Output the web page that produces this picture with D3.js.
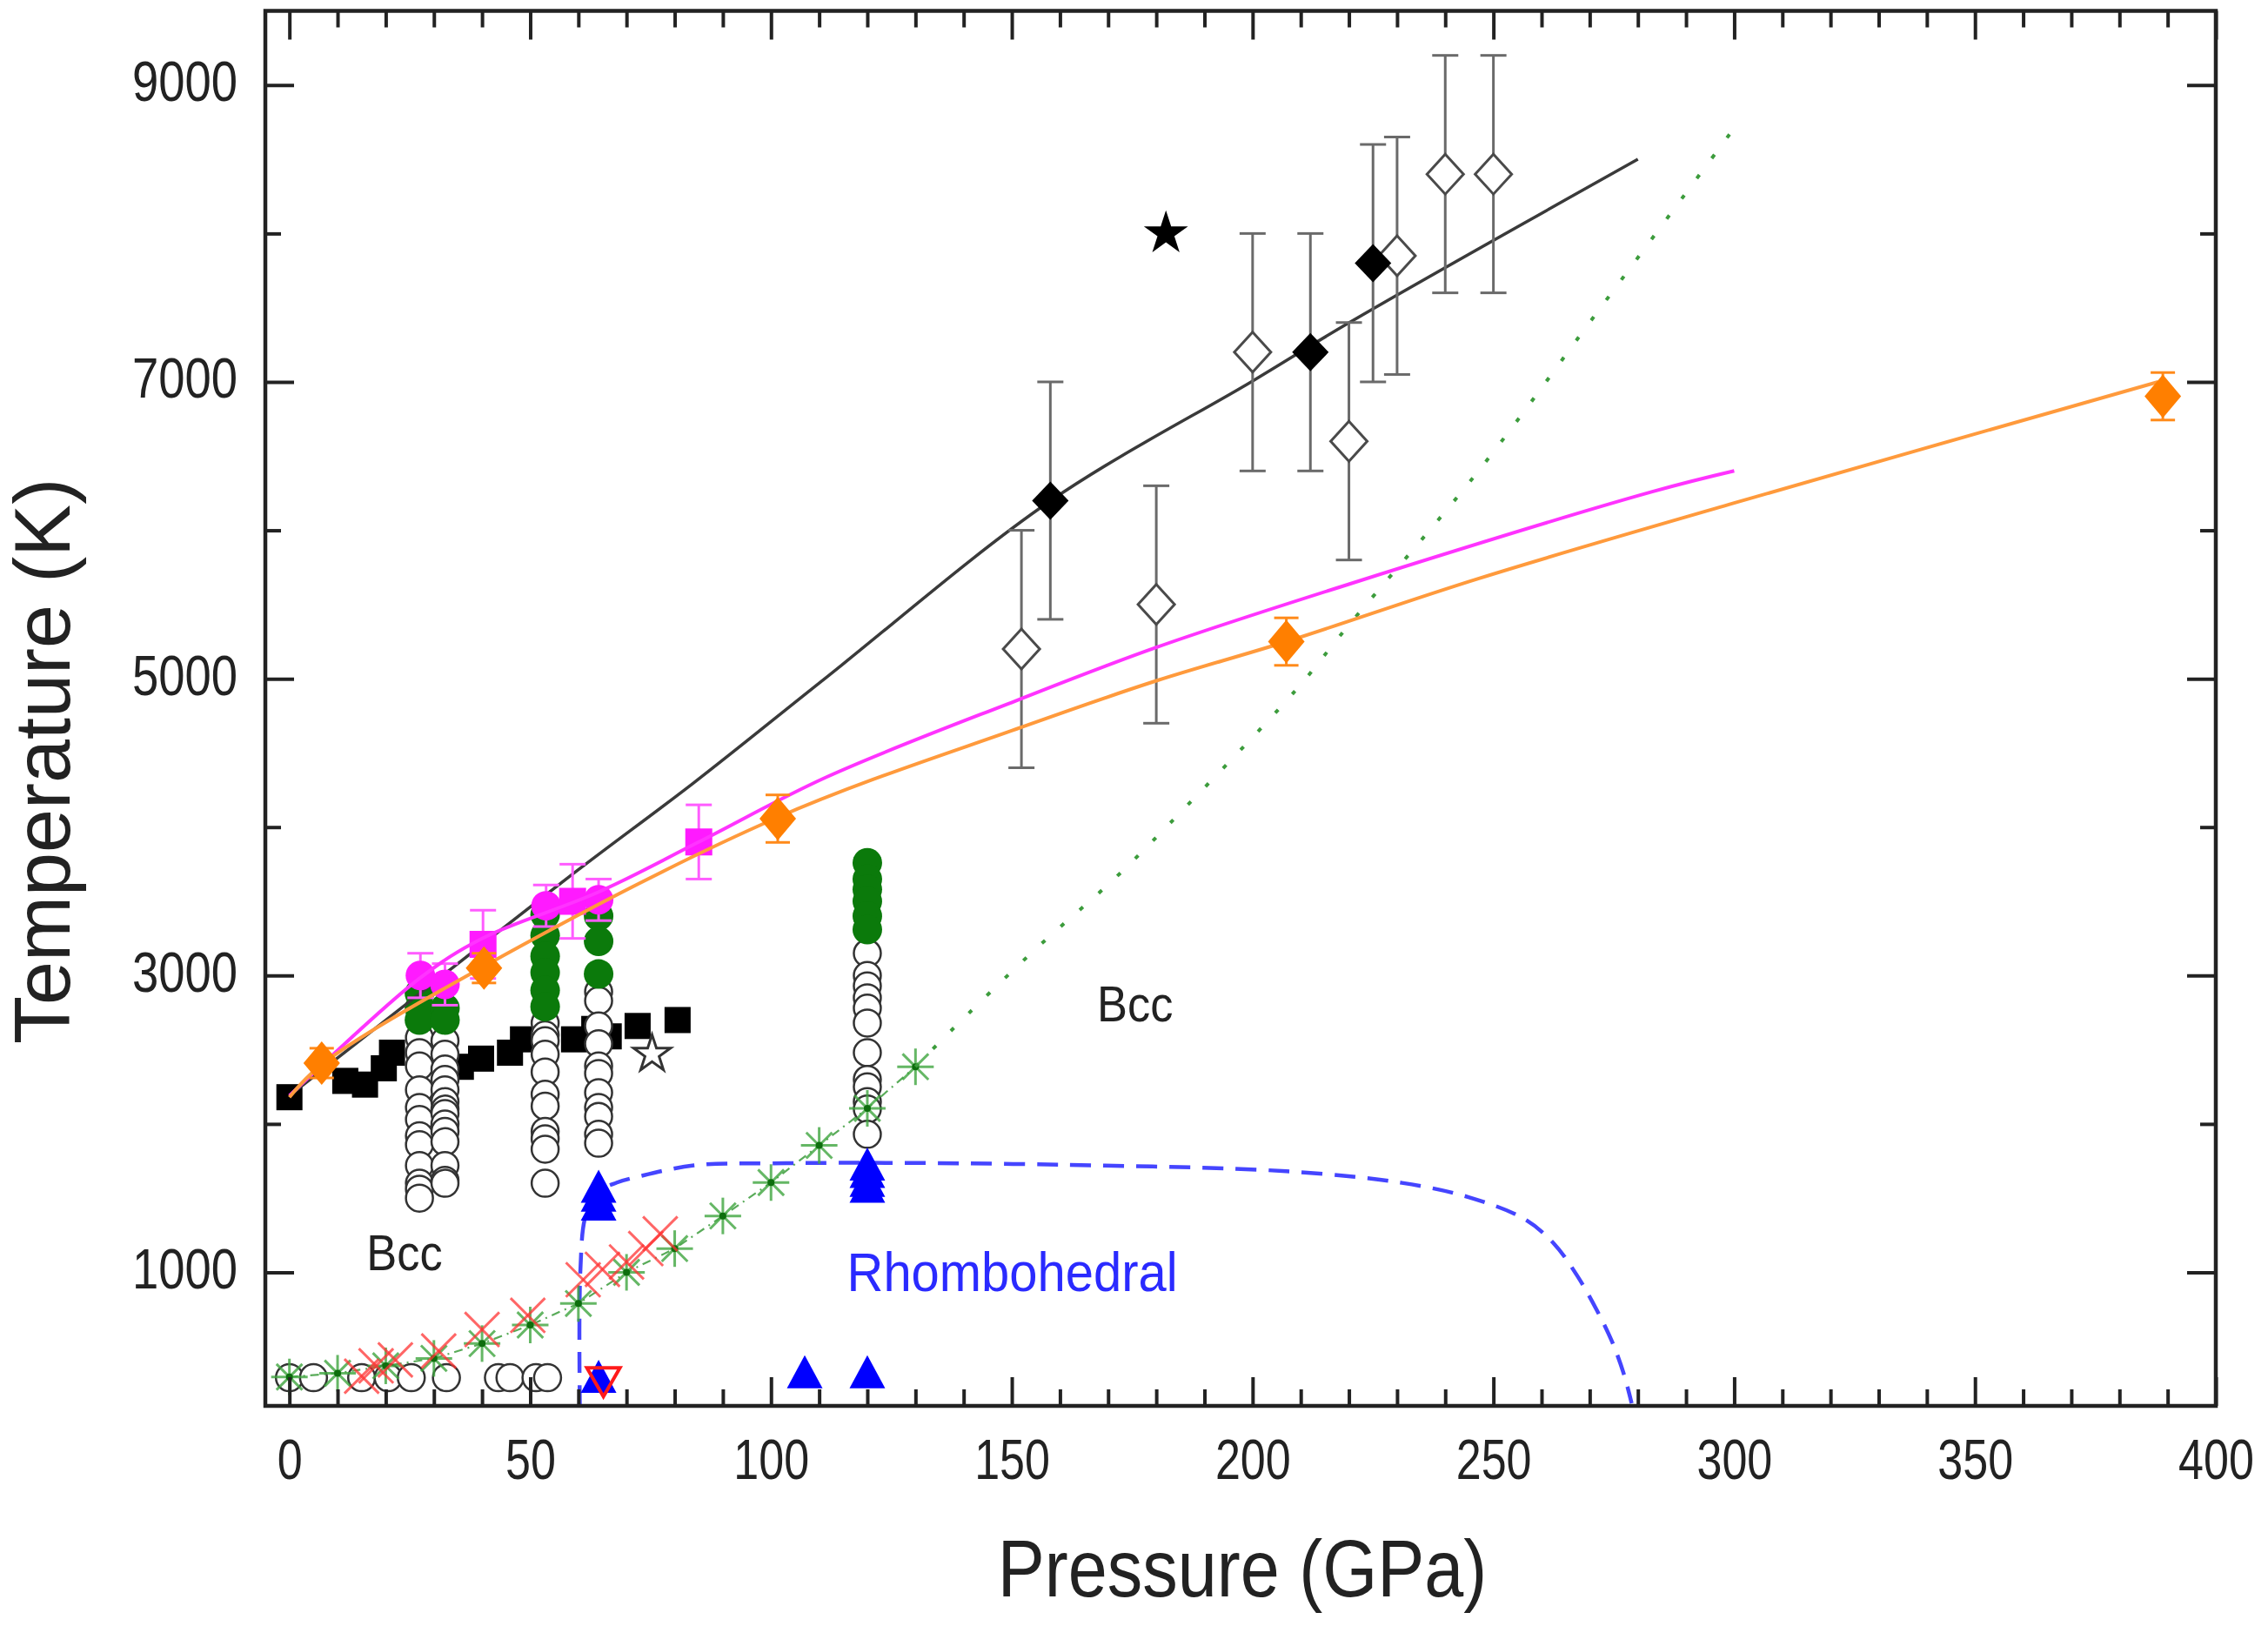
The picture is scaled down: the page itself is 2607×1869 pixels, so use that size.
<!DOCTYPE html>
<html lang="en">
<head>
<meta charset="UTF-8" />
<title>Melting curve and phase diagram</title>
<style>
  body { margin: 0; background: #fff; }
  svg { display: block; background: #fff; }
  text { font-family: 'Liberation Sans', Arial, Helvetica, sans-serif; fill: #222; }
</style>
</head>
<body>
<svg id="chart" width="2607" height="1869"></svg>
<script src="https://cdn.jsdelivr.net/npm/d3@7"></script>
<script>
// ---- data (pressure in GPa, temperature in K) ----
const xMajor = [0, 50, 100, 150, 200, 250, 300, 350, 400];
const xMinor = [10, 20, 30, 40, 60, 70, 80, 90, 110, 120, 130, 140, 160, 170, 180, 190,
  210, 220, 230, 240, 260, 270, 280, 290, 310, 320, 330, 340, 360, 370, 380, 390];
const yMajor = [1000, 3000, 5000, 7000, 9000];
const yMinor = [2000, 4000, 6000, 8000];

// fitted curves
const blackFitP = [0, 33, 60, 84, 111.5, 158, 200, 220, 280];
const blackFitT = [2190, 3030, 3713, 4300, 5009, 6198, 7006, 7398, 8500];
const magFitP = [0, 27, 40, 64, 85, 111.5, 151.5, 180, 220, 283, 300];
const magFitT = [2190, 2980, 3250, 3560, 3900, 4337, 4860, 5211, 5637, 6260, 6400];
const orFitP = [0, 6.7, 40, 101, 152, 180, 207, 247, 300, 388];
const orFitT = [2180, 2400, 3055, 4060, 4673, 4986, 5250, 5676, 6184, 7000];
const greenDotP = [130, 137, 155, 171, 182.5, 209, 219.3, 247, 272, 300];
const greenDotT = [2385, 2616, 3180, 3643, 4015, 4924, 5335, 6404, 7489, 8710];
const blueDashP = [60.3, 60.4, 61.5, 64, 68, 72, 84, 100, 120, 160, 207, 231, 245, 256.5, 262.6, 267.4, 271.5, 274.7, 277.1, 278.7];
const blueDashT = [100, 1000, 1380, 1540, 1605, 1641, 1721, 1734, 1738, 1725, 1681, 1603, 1505, 1358, 1192, 977, 743, 528, 313, 118];

// black squares
const sqP = [0, 11.6, 15.7, 19.6, 21.3, 35.6, 39.8, 45.8, 48.5, 59.1, 63.3, 66.3, 72.3, 80.6];
const sqT = [2180, 2290, 2265, 2375, 2480, 2385, 2440, 2480, 2570, 2570, 2640, 2590, 2660, 2700];

// open circle columns and green filled circles
const colP = [27, 32.3, 53.1, 64.2, 120];
const openColT = [
  [2580, 2480, 2390, 2230, 2110, 2030, 1920, 1860, 1720, 1600, 1560, 1500],
  [2560, 2470, 2370, 2300, 2230, 2150, 2100, 2070, 2000, 1950, 1880, 1720, 1620, 1600],
  [2680, 2600, 2560, 2470, 2350, 2200, 2120, 1950, 1900, 1830, 1600],
  [2890, 2830, 2660, 2540, 2390, 2340, 2210, 2110, 2050, 1930, 1870],
  [3150, 3000, 2930, 2850, 2780, 2680, 2480, 2300, 2250, 2150, 2100, 1930]
];
const greenColT = [
  [2880, 2780, 2700],
  [2780, 2700],
  [3410, 3270, 3130, 3020, 2900, 2790],
  [3400, 3230, 3010],
  [3760, 3650, 3580, 3500, 3400, 3310]
];
const openBottomP = [0, 5, 15, 20.5, 25.3, 32.6, 43.4, 45.8, 51.2, 53.6];
const openBottomT = [290, 290, 290, 290, 290, 290, 290, 290, 290, 290];

// triangles
const blueTriP = [64.2, 64.2, 64.2, 120, 120, 120, 120, 64.2, 107, 120];
const blueTriT = [1580, 1520, 1460, 1730, 1680, 1620, 1580, 300, 330, 330];
const redTriP = [65.2];
const redTriT = [260];

// asterisks and crosses
const astP = [0, 10, 20, 30, 40, 50, 60, 70, 80, 90, 100, 110, 120, 130];
const astT = [295, 320, 370, 420, 520, 645, 790, 1000, 1160, 1380, 1605, 1855, 2105, 2385];
const crossP = [15, 18, 22, 31, 40, 49.5, 61, 65, 70, 74, 77];
const crossT = [300, 370, 410, 470, 615, 710, 950, 1020, 1070, 1160, 1260];

// diamonds with error bars
const blkDiaP = [158, 212, 225];
const blkDiaT = [6200, 7200, 7800];
const blkDiaErr = [800, 800, 800];
const openDiaP = [152, 180, 200, 220, 230, 240, 250];
const openDiaT = [5200, 5500, 7200, 6600, 7850, 8400, 8400];
const openDiaErr = [800, 800, 800, 800, 800, 800, 800];
const orDiaP = [6.7, 40.4, 101.4, 207, 389];
const orDiaT = [2410, 3050, 4057, 5250, 6903];
const orDiaErr = [100, 100, 160, 160, 160];

// magenta points
const pinkCircP = [27.2, 32.3, 53.3, 64.2];
const pinkCircT = [3000, 2940, 3470, 3510];
const pinkCircErr = [150, 140, 140, 140];
const pinkSqP = [40.2, 58.8, 85];
const pinkSqT = [3210, 3500, 3900];
const pinkSqErr = [230, 250, 250];

// stars
const starP = [182];
const starT = [8000];
const openStarP = [75.3];
const openStarT = [2470];

// annotations
const labelText = ["Bcc", "Bcc", "Rhombohedral"];
const labelP = [23.9, 175.6, 150.1];
const labelT = [1016, 2693, 876];
const labelColor = ["#222", "#222", "#2a2aff"];

// ---- chart ----
const svg = d3.select("#chart");
const x = d3.scaleLinear().domain([-5, 400]).range([305, 2547]);
const y = d3.scaleLinear().domain([100, 9500]).range([1616, 12.5]);

const zip = (a, b) => a.map((v, i) => [v, b[i]]);
const smooth = d3.line().x(d => x(d[0])).y(d => y(d[1])).curve(d3.curveCatmullRom.alpha(0.5));
const straight = d3.line().x(d => x(d[0])).y(d => y(d[1]));
const at = (p, t) => `translate(${x(p)},${y(t)})`;

const plot = svg.append("g");

// error bar helper
function errorBars(P, T, E, color, cap) {
  const g = plot.append("g").attr("stroke", color).attr("stroke-width", 3).attr("fill", "none");
  P.forEach((p, i) => {
    const cx = x(p), y1 = y(T[i] + E[i]), y2 = y(T[i] - E[i]);
    g.append("line").attr("x1", cx).attr("x2", cx).attr("y1", y1).attr("y2", y2);
    g.append("line").attr("x1", cx - cap).attr("x2", cx + cap).attr("y1", y1).attr("y2", y1);
    g.append("line").attr("x1", cx - cap).attr("x2", cx + cap).attr("y1", y2).attr("y2", y2);
  });
}
const diamond = (w, h) => `M0,${-h}L${w},0L0,${h}L${-w},0Z`;
const triUp = (w, h) => `M0,${-h / 2}L${w / 2},${h / 2}L${-w / 2},${h / 2}Z`;
const triDown = (w, h) => `M0,${h / 2}L${w / 2},${-h / 2}L${-w / 2},${-h / 2}Z`;

// black squares
plot.append("g").selectAll("rect").data(zip(sqP, sqT)).join("rect")
  .attr("x", d => x(d[0]) - 15).attr("y", d => y(d[1]) - 15)
  .attr("width", 30).attr("height", 30).attr("fill", "#000");

// open circles (columns + bottom row)
const openPts = colP.flatMap((p, i) => openColT[i].map(t => [p, t])).concat(zip(openBottomP, openBottomT));
plot.append("g").selectAll("circle").data(openPts).join("circle")
  .attr("cx", d => x(d[0])).attr("cy", d => y(d[1])).attr("r", 15.5)
  .attr("fill", "#fff").attr("stroke", "#333").attr("stroke-width", 2.5);

// green filled circles
const greenPts = colP.flatMap((p, i) => greenColT[i].map(t => [p, t]));
plot.append("g").selectAll("circle").data(greenPts).join("circle")
  .attr("cx", d => x(d[0])).attr("cy", d => y(d[1])).attr("r", 17)
  .attr("fill", "#0b7a0b");

// blue dashed boundary
plot.append("path").datum(zip(blueDashP, blueDashT)).attr("d", smooth)
  .attr("fill", "none").attr("stroke", "#4545ff").attr("stroke-width", 4.5)
  .attr("stroke-dasharray", "24 14");

// asterisk connector (dash-dot)
plot.append("path").datum(zip(astP, astT)).attr("d", straight)
  .attr("fill", "none").attr("stroke", "#3c9c3c").attr("stroke-width", 2.2)
  .attr("stroke-dasharray", "10 6 2 6").attr("opacity", 0.85);

// green asterisks
const ast = plot.append("g").selectAll("g").data(zip(astP, astT)).join("g")
  .attr("transform", d => at(d[0], d[1]));
[0, 45, 90, 135].forEach(a => {
  ast.append("line").attr("x1", -21).attr("x2", 21).attr("y1", 0).attr("y2", 0)
    .attr("transform", `rotate(${a})`).attr("stroke", "#3fa63f").attr("stroke-width", 3).attr("opacity", 0.8);
});
ast.append("circle").attr("r", 4).attr("fill", "#0d6e0d");

// red crosses
const crs = plot.append("g").selectAll("g").data(zip(crossP, crossT)).join("g")
  .attr("transform", d => at(d[0], d[1]));
[45, 135].forEach(a => {
  crs.append("line").attr("x1", -28).attr("x2", 28).attr("y1", 0).attr("y2", 0)
    .attr("transform", `rotate(${a})`).attr("stroke", "#ff3434").attr("stroke-width", 3).attr("opacity", 0.75);
});

// green dotted line
plot.append("path").datum(zip(greenDotP, greenDotT)).attr("d", smooth)
  .attr("fill", "none").attr("stroke", "#3c9c3c").attr("stroke-width", 4)
  .attr("stroke-dasharray", "5 24");

// blue triangles
plot.append("g").selectAll("path").data(zip(blueTriP, blueTriT)).join("path")
  .attr("d", triUp(41, 38)).attr("transform", d => at(d[0], d[1])).attr("fill", "#0000ff");
// red open inverted triangle
plot.append("g").selectAll("path").data(zip(redTriP, redTriT)).join("path")
  .attr("d", triDown(38, 33)).attr("transform", d => at(d[0], d[1]))
  .attr("fill", "none").attr("stroke", "#ff1a1a").attr("stroke-width", 4);

// black fit line
plot.append("path").datum(zip(blackFitP, blackFitT)).attr("d", smooth)
  .attr("fill", "none").attr("stroke", "#3a3a3a").attr("stroke-width", 3.5);

// diamonds with error bars
errorBars(openDiaP, openDiaT, openDiaErr, "#6a6a6a", 15);
errorBars(blkDiaP, blkDiaT, blkDiaErr, "#6a6a6a", 15);
plot.append("g").selectAll("path").data(zip(openDiaP, openDiaT)).join("path")
  .attr("d", diamond(21, 23)).attr("transform", d => at(d[0], d[1]))
  .attr("fill", "#fff").attr("stroke", "#4a4a4a").attr("stroke-width", 3);
plot.append("g").selectAll("path").data(zip(blkDiaP, blkDiaT)).join("path")
  .attr("d", diamond(21, 22)).attr("transform", d => at(d[0], d[1])).attr("fill", "#000");

// stars
plot.append("g").selectAll("path").data(zip(starP, starT)).join("path")
  .attr("d", d3.symbol(d3.symbolStar, 800)()).attr("transform", d => at(d[0], d[1])).attr("fill", "#000");
plot.append("g").selectAll("path").data(zip(openStarP, openStarT)).join("path")
  .attr("d", d3.symbol(d3.symbolStar, 560)()).attr("transform", d => at(d[0], d[1]))
  .attr("fill", "#fff").attr("stroke", "#333").attr("stroke-width", 3);

// magenta points + fit
errorBars(pinkCircP, pinkCircT, pinkCircErr, "#ff5cff", 15);
errorBars(pinkSqP, pinkSqT, pinkSqErr, "#ff5cff", 15);
plot.append("g").selectAll("circle").data(zip(pinkCircP, pinkCircT)).join("circle")
  .attr("cx", d => x(d[0])).attr("cy", d => y(d[1])).attr("r", 17).attr("fill", "#ff1aff");
plot.append("g").selectAll("rect").data(zip(pinkSqP, pinkSqT)).join("rect")
  .attr("x", d => x(d[0]) - 15.5).attr("y", d => y(d[1]) - 15.5)
  .attr("width", 31).attr("height", 31).attr("fill", "#ff1aff");
plot.append("path").datum(zip(magFitP, magFitT)).attr("d", smooth)
  .attr("fill", "none").attr("stroke", "#ff33ff").attr("stroke-width", 4);

// orange points + fit
plot.append("path").datum(zip(orFitP, orFitT)).attr("d", smooth)
  .attr("fill", "none").attr("stroke", "#ff9a3c").attr("stroke-width", 4);
errorBars(orDiaP, orDiaT, orDiaErr, "#ff8a1a", 14);
plot.append("g").selectAll("path").data(zip(orDiaP, orDiaT)).join("path")
  .attr("d", diamond(21, 25)).attr("transform", d => at(d[0], d[1])).attr("fill", "#ff7f00");

// annotations
svg.append("g").selectAll("text").data(labelText).join("text")
  .attr("transform", (d, i) => `${at(labelP[i], labelT[i])} scale(0.92,1)`)
  .attr("text-anchor", "middle")
  .style("font-size", (d, i) => i === 2 ? "63px" : "57px")
  .style("fill", (d, i) => labelColor[i])
  .text(d => d);

// ---- axes ----
function styleAxis(g) {
  g.select(".domain").remove();
  g.selectAll(".tick line").attr("stroke", "#222").attr("stroke-width", 4);
}
svg.append("g").attr("transform", "translate(0,1616)")
  .call(d3.axisBottom(x).tickValues(xMajor).tickSize(-33).tickFormat(d3.format("d")))
  .call(styleAxis)
  .call(g => g.selectAll(".tick text").attr("y", null).attr("dy", null)
    .attr("transform", "translate(0,84) scale(0.8,1)")
    .style("font-size", "65px").attr("fill", "#222"));
svg.append("g").attr("transform", "translate(0,1616)")
  .call(d3.axisBottom(x).tickValues(xMinor).tickSize(-19).tickFormat(""))
  .call(styleAxis);
svg.append("g").attr("transform", "translate(0,12.5)")
  .call(d3.axisTop(x).tickValues(xMajor).tickSize(-33).tickFormat(""))
  .call(styleAxis);
svg.append("g").attr("transform", "translate(0,12.5)")
  .call(d3.axisTop(x).tickValues(xMinor).tickSize(-19).tickFormat(""))
  .call(styleAxis);

svg.append("g").attr("transform", "translate(305,0)")
  .call(d3.axisLeft(y).tickValues(yMajor).tickSize(-33).tickFormat(d3.format("d")))
  .call(styleAxis)
  .call(g => g.selectAll(".tick text").attr("x", null).attr("dy", null)
    .attr("transform", "translate(-32,18) scale(0.85,1)")
    .style("font-size", "64px").attr("fill", "#222"));
svg.append("g").attr("transform", "translate(305,0)")
  .call(d3.axisLeft(y).tickValues(yMinor).tickSize(-18).tickFormat(""))
  .call(styleAxis);
svg.append("g").attr("transform", "translate(2547,0)")
  .call(d3.axisRight(y).tickValues(yMajor).tickSize(-33).tickFormat(""))
  .call(styleAxis);
svg.append("g").attr("transform", "translate(2547,0)")
  .call(d3.axisRight(y).tickValues(yMinor).tickSize(-18).tickFormat(""))
  .call(styleAxis);

// frame
svg.append("rect").attr("x", 305).attr("y", 12.5).attr("width", 2242).attr("height", 1603.5)
  .attr("fill", "none").attr("stroke", "#222").attr("stroke-width", 4.5);

// axis titles
svg.append("text").attr("transform", "translate(1428,1835) scale(0.88,1)")
  .attr("text-anchor", "middle").style("font-size", "92px").text("Pressure (GPa)");
svg.append("text").attr("transform", "translate(80,875) rotate(-90)")
  .attr("text-anchor", "middle").style("font-size", "90px").text("Temperature (K)");
</script>
</body>
</html>
